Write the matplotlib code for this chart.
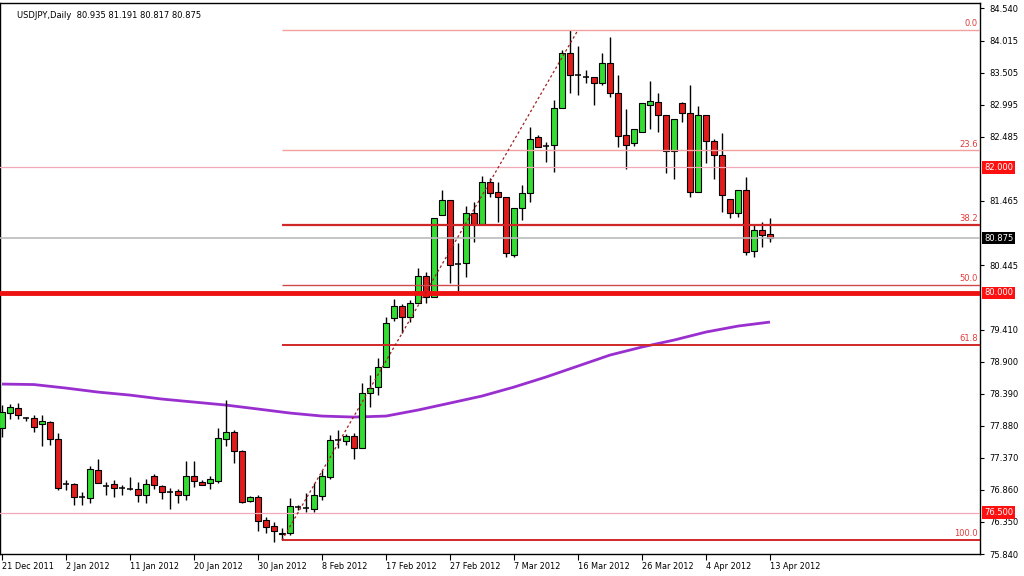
import matplotlib
matplotlib.use('Agg')
import matplotlib.pyplot as plt
from matplotlib.patches import Rectangle

# ---------------- data ----------------
title_text = "USDJPY,Daily  80.935 81.191 80.817 80.875"

x_label_bars = [0, 8, 16, 24, 32, 40, 48, 56, 64, 72, 80, 88, 96]
x_labels = ['21 Dec 2011', '2 Jan 2012', '11 Jan 2012', '20 Jan 2012', '30 Jan 2012',
            '8 Feb 2012', '17 Feb 2012', '27 Feb 2012', '7 Mar 2012', '16 Mar 2012',
            '26 Mar 2012', '4 Apr 2012', '13 Apr 2012']

y_ticks = [84.540, 84.015, 83.505, 82.995, 82.485, 81.465, 80.445, 79.410,
           78.900, 78.390, 77.880, 77.370, 76.860, 76.350, 75.840]

opens = [77.847, 78.086, 78.165, 78.006, 78.006, 77.911, 77.942, 77.672, 76.946, 76.954,
         76.747, 76.731, 77.177, 76.922, 76.954, 76.890, 76.875, 76.875, 76.779, 77.081,
         76.922, 76.827, 76.843, 76.779, 77.081, 76.986, 76.970, 77.002, 77.672, 77.783,
         77.480, 76.684, 76.747, 76.381, 76.285, 76.158, 76.174, 76.588, 76.572, 76.556,
         76.763, 77.066, 77.656, 77.640, 77.719, 77.528, 78.405, 78.500, 78.819, 79.600,
         79.791, 79.616, 79.839, 80.269, 79.934, 81.241, 81.480, 80.460, 80.476, 81.273,
         81.098, 81.767, 81.608, 81.528, 80.604, 81.353, 81.592, 82.484, 82.341, 82.357,
         82.946, 83.823, 83.472, 83.440, 83.440, 83.345, 83.663, 83.185, 82.516, 82.389,
         82.564, 82.994, 83.042, 82.835, 82.261, 83.026, 82.867, 81.608, 82.835, 82.420,
         82.197, 81.496, 81.273, 81.639, 80.668, 81.002, 80.935]

highs = [78.213, 78.229, 78.245, 78.022, 78.054, 78.054, 77.958, 77.767, 77.018, 76.970,
         76.827, 77.241, 77.353, 76.986, 77.018, 76.938, 77.066, 76.986, 77.034, 77.113,
         76.938, 76.890, 76.875, 77.321, 77.321, 77.018, 77.081, 77.847, 78.293, 77.815,
         77.496, 76.763, 76.779, 76.429, 76.349, 76.253, 76.731, 76.620, 76.811, 76.970,
         77.177, 77.735, 77.815, 77.751, 77.767, 78.564, 78.691, 78.962, 79.616, 79.902,
         79.823, 79.887, 80.397, 80.333, 81.193, 81.639, 81.480, 80.795, 81.385, 81.448,
         81.863, 81.831, 81.767, 81.528, 81.353, 81.719, 82.644, 82.516, 82.405, 83.074,
         83.871, 84.190, 83.934, 83.552, 83.440, 83.823, 84.078, 83.472, 82.930, 82.612,
         83.026, 83.377, 83.185, 82.835, 82.771, 83.042, 83.313, 82.978, 82.835, 82.452,
         82.548, 81.496, 81.639, 81.847, 81.082, 81.130, 81.191]

lows = [77.703, 77.990, 77.990, 77.958, 77.783, 77.560, 77.576, 76.859, 76.859, 76.620,
        76.620, 76.652, 76.970, 76.779, 76.747, 76.779, 76.859, 76.668, 76.652, 76.875,
        76.715, 76.556, 76.652, 76.699, 76.906, 76.938, 76.875, 76.970, 77.560, 77.289,
        76.652, 76.668, 76.206, 76.174, 76.030, 76.062, 76.142, 76.540, 76.508, 76.508,
        76.699, 77.034, 77.528, 77.576, 77.353, 77.528, 78.181, 78.373, 78.819, 79.552,
        79.361, 79.536, 79.839, 79.839, 79.934, 81.241, 80.158, 79.998, 80.253, 80.811,
        81.098, 81.528, 81.130, 80.572, 80.572, 81.162, 81.448, 82.325, 82.086, 81.926,
        82.946, 83.185, 83.154, 83.345, 82.994, 83.313, 83.122, 82.325, 81.974, 82.341,
        82.564, 82.612, 82.564, 81.911, 81.815, 82.723, 81.528, 81.608, 82.070, 81.815,
        81.289, 81.193, 81.209, 80.604, 80.572, 80.731, 80.817]

closes = [78.102, 78.181, 78.054, 77.998, 77.863, 77.958, 77.672, 76.890, 76.954, 76.747,
          76.750, 77.193, 76.970, 76.925, 76.890, 76.893, 76.878, 76.779, 76.954, 76.938,
          76.827, 76.830, 76.779, 77.081, 77.002, 76.938, 77.034, 77.687, 77.783, 77.480,
          76.668, 76.747, 76.365, 76.269, 76.206, 76.174, 76.604, 76.592, 76.575, 76.779,
          77.081, 77.656, 77.660, 77.719, 77.528, 78.405, 78.484, 78.819, 79.520, 79.791,
          79.616, 79.839, 80.269, 79.934, 81.193, 81.480, 80.444, 80.463, 81.273, 81.098,
          81.767, 81.592, 81.528, 80.636, 81.353, 81.592, 82.452, 82.325, 82.345, 82.946,
          83.823, 83.472, 83.475, 83.443, 83.345, 83.663, 83.185, 82.500, 82.357, 82.612,
          83.026, 83.058, 82.835, 82.261, 82.771, 82.867, 81.608, 82.835, 82.420, 82.197,
          81.560, 81.273, 81.639, 80.652, 81.002, 80.923, 80.875]

# moving average (read at every 4th bar)
ma_bars = [0, 4, 8, 12, 16, 20, 24, 28, 32, 36, 40, 44, 48, 52, 56, 60, 64, 68, 72,
           76, 80, 84, 88, 92, 96]
ma_vals = [78.548, 78.540, 78.484, 78.420, 78.372, 78.309, 78.261, 78.213, 78.150,
           78.086, 78.038, 78.022, 78.038, 78.134, 78.245, 78.357, 78.500, 78.660,
           78.835, 79.010, 79.138, 79.249, 79.377, 79.472, 79.536]

# Fibonacci retracement
fib_low_bar, fib_high_bar = 35, 72
fib_low, fib_high = 76.06, 84.19
fib_levels = [0.0, 23.6, 38.2, 50.0, 61.8, 100.0]
fib_labels = ['0.0', '23.6', '38.2', '50.0', '61.8', '100.0']

# horizontal price lines
hline_prices = [82.000, 80.000, 76.500]
current_price = 80.875

# ---------------- plot ----------------
fig = plt.figure(figsize=(10.24, 5.76), dpi=100)
fig.patch.set_facecolor('white')
ax = fig.add_axes([0.0, 22 / 576, 980 / 1024, 551 / 576])
ax.set_facecolor('white')

xmin, xmax = -0.25, 122.25
ax.set_xlim(xmin, xmax)
ax.set_ylim(75.84, 84.62)

bull = '#33dd33'
bear = '#e01c1c'
bw = 0.7

# moving average
ax.plot(ma_bars, ma_vals, color='#9a2fd0', lw=2.0, zorder=1, solid_capstyle='butt')

# candles
for i, (o, h, l, c) in enumerate(zip(opens, highs, lows, closes)):
    ax.vlines(i, l, h, color='black', lw=1.0, zorder=2)
    bottom = min(o, c)
    height = abs(c - o)
    fc = bull if c >= o else bear
    if height < 0.012:
        ax.hlines(bottom + height / 2, i - bw / 2, i + bw / 2, color='black', lw=1.1, zorder=3)
    else:
        ax.add_patch(Rectangle((i - bw / 2, bottom), bw, height, facecolor=fc,
                               edgecolor='black', lw=0.8, zorder=3))

# horizontal full-width lines
ax.axhline(82.000, color='#f2a8b8', lw=0.9, zorder=4)
ax.axhline(76.500, color='#f2a8b8', lw=0.9, zorder=4)
ax.axhline(current_price, color='#bbbbbb', lw=1.2, zorder=4)
ax.axhline(80.000, color='#ee1111', lw=3.5, zorder=4)

# fibonacci lines
fib_styles = {0.0: ('#f4a0a0', 1.0), 23.6: ('#f4a0a0', 1.0), 38.2: ('#d02828', 1.6),
              50.0: ('#d04848', 1.0), 61.8: ('#d02828', 1.4), 100.0: ('#d02828', 1.4)}
rng = fib_high - fib_low
for lev, lab in zip(fib_levels, fib_labels):
    p = fib_high - rng * lev / 100.0
    col, lw = fib_styles[lev]
    ax.hlines(p, fib_low_bar, xmax, color=col, lw=lw, zorder=4)
    ax.text(xmax - 0.3, p + 0.03, lab, ha='right', va='bottom', color='#e03a3a',
            fontsize=6.0, zorder=5)

# dashed trend line of the fib tool
ax.plot([fib_low_bar, fib_high_bar], [fib_low, fib_high], color='#a02020', lw=0.9,
        dashes=(2, 2), zorder=5)

# title
ax.text(0.017, 0.985, title_text, transform=ax.transAxes, ha='left', va='top',
        fontsize=6.0, color='black', zorder=6)

# axes styling
for s in ax.spines.values():
    s.set_color('black')
    s.set_linewidth(1.0)

ax.yaxis.tick_right()
ax.set_yticks(y_ticks)
ax.set_yticklabels(['%.3f' % v for v in y_ticks])
ax.tick_params(axis='y', direction='out', length=3, width=0.8, pad=4, labelsize=6.0,
               colors='black')

ax.set_xticks(x_label_bars)
ax.set_xticklabels(x_labels, ha='left')
ax.tick_params(axis='x', direction='out', length=4, width=0.8, pad=2, labelsize=5.9,
               colors='black')

# price tags on the right axis
ytr = ax.get_yaxis_transform()
for p in hline_prices:
    ax.text(1.004, p, '%.3f' % p, transform=ytr, ha='left', va='center', fontsize=6.0,
            color='white', clip_on=False, zorder=7,
            bbox=dict(facecolor='#ff1010', edgecolor='none', pad=1.2))
ax.text(1.004, current_price, '%.3f' % current_price, transform=ytr, ha='left',
        va='center', fontsize=6.0, color='white', clip_on=False, zorder=7,
        bbox=dict(facecolor='black', edgecolor='none', pad=1.2))

fig.savefig('out.png', dpi=100, facecolor='white')
